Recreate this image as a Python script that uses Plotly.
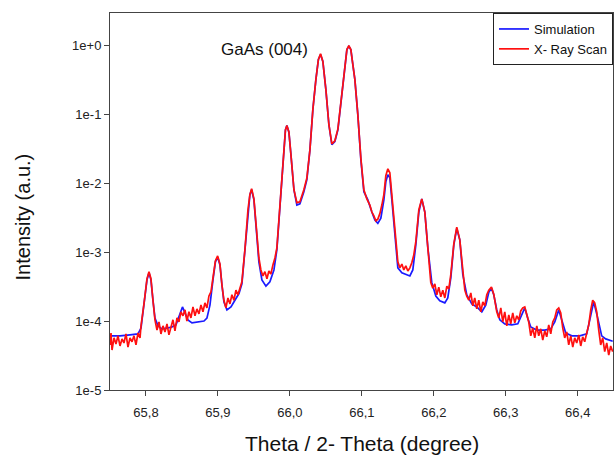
import math
import plotly.graph_objects as go

# ---- Simulation (blue) ----
sim_theta = [65.7500, 65.7639, 65.7778, 65.7889, 65.7931, 65.7972, 65.8014, 65.8042, 65.8069, 65.8097,
             65.8125, 65.8167, 65.8222, 65.8292, 65.8361, 65.8417, 65.8458, 65.8507, 65.8542, 65.8583,
             65.8639, 65.8722, 65.8806, 65.8847, 65.8889, 65.8931, 65.8965, 65.8996, 65.9028, 65.9056,
             65.9083, 65.9125, 65.9181, 65.9236, 65.9292, 65.9333, 65.9375, 65.9417, 65.9444, 65.9468,
             65.9500, 65.9528, 65.9569, 65.9611, 65.9667, 65.9722, 65.9778, 65.9819, 65.9861, 65.9903,
             65.9938, 65.9958, 65.9986, 66.0014, 66.0056, 66.0097, 66.0139, 66.0194, 66.0236, 66.0278,
             66.0319, 66.0361, 66.0396, 66.0426, 66.0458, 66.0500, 66.0542, 66.0583, 66.0625, 66.0667,
             66.0708, 66.0750, 66.0792, 66.0819, 66.0847, 66.0875, 66.0903, 66.0944, 66.0986, 66.1028,
             66.1083, 66.1139, 66.1181, 66.1222, 66.1264, 66.1306, 66.1333, 66.1361, 66.1389, 66.1417,
             66.1458, 66.1500, 66.1556, 66.1611, 66.1667, 66.1708, 66.1750, 66.1792, 66.1833, 66.1875,
             66.1917, 66.1972, 66.2028, 66.2083, 66.2153, 66.2194, 66.2236, 66.2278, 66.2319, 66.2361,
             66.2403, 66.2458, 66.2528, 66.2597, 66.2667, 66.2722, 66.2764, 66.2801, 66.2833, 66.2875,
             66.2917, 66.2986, 66.3083, 66.3167, 66.3222, 66.3264, 66.3306, 66.3347, 66.3431, 66.3542,
             66.3625, 66.3681, 66.3736, 66.3778, 66.3833, 66.3917, 66.4028, 66.4125, 66.4167, 66.4222,
             66.4278, 66.4333, 66.4389, 66.4486]
sim_intensity = [6.1e-5, 6.1e-5, 6.3e-5, 6.5e-5, 7.9e-5, 1.7e-4, 3.95e-4, 5.0e-4, 3.95e-4, 2.0e-4,
                 1.1e-4, 8.5e-5, 7.7e-5, 7.9e-5, 8.2e-5, 8.8e-5, 1.19e-4, 1.6e-4, 1.31e-4, 1.04e-4,
                 9.4e-5, 9.7e-5, 1.0e-4, 1.1e-4, 1.7e-4, 3.95e-4, 7.2e-4, 8.4e-4, 6.5e-4, 3.3e-4,
                 1.9e-4, 1.45e-4, 1.6e-4, 2.0e-4, 2.5e-4, 3.45e-4, 1.08e-3, 4.1e-3, 6.8e-3, 8.0e-3,
                 5.7e-3, 2.5e-3, 7.2e-4, 3.95e-4, 3.2e-4, 3.7e-4, 5.5e-4, 1.08e-3, 4.5e-3, 2.2e-2,
                 5.9e-2, 6.8e-2, 5.5e-2, 2.6e-2, 8.0e-3, 4.8e-3, 5.0e-3, 7.5e-3, 1.12e-2, 3.0e-2,
                 0.116, 0.316, 0.62, 0.73, 0.58, 0.226, 0.07, 0.036, 0.04, 0.059,
                 0.137, 0.373, 0.86, 0.96, 0.86, 0.52, 0.316, 0.098, 0.022, 7.5e-3,
                 5.7e-3, 3.8e-3, 2.9e-3, 2.6e-3, 3.1e-3, 5.7e-3, 1.04e-2, 1.32e-2, 1.19e-2, 5.7e-3,
                 1.9e-3, 5.9e-4, 5.0e-4, 4.8e-4, 4.5e-4, 5.5e-4, 1.27e-3, 3.8e-3, 5.9e-3, 3.8e-3,
                 1.15e-3, 3.6e-4, 2.3e-4, 1.96e-4, 1.83e-4, 2.16e-4, 4.2e-4, 1.27e-3, 2.2e-3, 1.5e-3,
                 4.7e-4, 2.4e-4, 1.77e-4, 1.6e-4, 1.36e-4, 1.7e-4, 2.6e-4, 3.0e-4, 2.4e-4, 1.45e-4,
                 1.04e-4, 9.1e-5, 8.8e-5, 9.1e-5, 1.23e-4, 1.55e-4, 1.1e-4, 8.2e-5, 7.4e-5, 7.4e-5,
                 7.7e-5, 9.7e-5, 1.45e-4, 1.04e-4, 6.7e-5, 6.1e-5, 6.1e-5, 6.5e-5, 1.04e-4, 1.9e-4,
                 1.1e-4, 6.1e-5, 5.5e-5, 5.1e-5]

# ---- X-Ray scan (red) ----
xrd_theta = [65.7500, 65.7514, 65.7528, 65.7556, 65.7583, 65.7611, 65.7639, 65.7667, 65.7694, 65.7722,
             65.7750, 65.7778, 65.7806, 65.7833, 65.7861, 65.7889, 65.7917, 65.7931, 65.7972, 65.8014,
             65.8042, 65.8069, 65.8097, 65.8125, 65.8153, 65.8181, 65.8208, 65.8236, 65.8264, 65.8292,
             65.8319, 65.8347, 65.8375, 65.8403, 65.8431, 65.8458, 65.8486, 65.8514, 65.8542, 65.8569,
             65.8597, 65.8625, 65.8653, 65.8681, 65.8708, 65.8736, 65.8764, 65.8792, 65.8819, 65.8847,
             65.8875, 65.8903, 65.8931, 65.8965, 65.8996, 65.9028, 65.9056, 65.9083, 65.9111, 65.9139,
             65.9167, 65.9194, 65.9222, 65.9250, 65.9278, 65.9306, 65.9333, 65.9375, 65.9417, 65.9444,
             65.9468, 65.9500, 65.9528, 65.9569, 65.9597, 65.9625, 65.9653, 65.9681, 65.9708, 65.9736,
             65.9764, 65.9792, 65.9819, 65.9861, 65.9903, 65.9938, 65.9958, 65.9986, 66.0014, 66.0056,
             66.0097, 66.0139, 66.0194, 66.0236, 66.0278, 66.0319, 66.0361, 66.0396, 66.0426, 66.0458,
             66.0500, 66.0542, 66.0583, 66.0625, 66.0667, 66.0708, 66.0750, 66.0792, 66.0819, 66.0847,
             66.0875, 66.0903, 66.0944, 66.0986, 66.1028, 66.1069, 66.1111, 66.1139, 66.1167, 66.1194,
             66.1222, 66.1250, 66.1278, 66.1306, 66.1333, 66.1361, 66.1389, 66.1417, 66.1458, 66.1500,
             66.1528, 66.1556, 66.1583, 66.1611, 66.1639, 66.1667, 66.1694, 66.1722, 66.1750, 66.1792,
             66.1833, 66.1875, 66.1917, 66.1958, 66.1986, 66.2014, 66.2042, 66.2069, 66.2097, 66.2125,
             66.2153, 66.2181, 66.2208, 66.2236, 66.2278, 66.2319, 66.2361, 66.2403, 66.2431, 66.2458,
             66.2486, 66.2514, 66.2542, 66.2569, 66.2597, 66.2625, 66.2653, 66.2681, 66.2708, 66.2736,
             66.2764, 66.2801, 66.2833, 66.2875, 66.2903, 66.2931, 66.2958, 66.2986, 66.3014, 66.3042,
             66.3069, 66.3097, 66.3125, 66.3153, 66.3181, 66.3208, 66.3236, 66.3264, 66.3292, 66.3319,
             66.3347, 66.3375, 66.3403, 66.3431, 66.3458, 66.3486, 66.3514, 66.3542, 66.3569, 66.3597,
             66.3625, 66.3653, 66.3681, 66.3708, 66.3736, 66.3764, 66.3792, 66.3819, 66.3847, 66.3875,
             66.3903, 66.3931, 66.3958, 66.3986, 66.4014, 66.4042, 66.4069, 66.4097, 66.4125, 66.4153,
             66.4181, 66.4208, 66.4236, 66.4264, 66.4292, 66.4319, 66.4347, 66.4375, 66.4403, 66.4431,
             66.4458, 66.4486]
xrd_intensity = [4.5e-5, 6.7e-5, 3.8e-5, 5.7e-5, 4.65e-5, 6.1e-5, 4.35e-5, 5.5e-5, 4.8e-5, 6.5e-5,
                 4.2e-5, 5.7e-5, 5.0e-5, 6.1e-5, 4.5e-5, 6.7e-5, 5.7e-5, 8.5e-5, 1.77e-4, 4.1e-4,
                 5.2e-4, 4.1e-4, 2.0e-4, 1.04e-4, 7.4e-5, 9.7e-5, 6.5e-5, 8.5e-5, 6.95e-5, 9.1e-5,
                 6.3e-5, 8.2e-5, 1.04e-4, 7.2e-5, 1.11e-4, 9.7e-5, 1.36e-4, 1.19e-4, 1.45e-4, 1.0e-4,
                 1.36e-4, 1.11e-4, 1.6e-4, 1.19e-4, 1.5e-4, 1.27e-4, 1.71e-4, 1.36e-4, 1.83e-4, 1.55e-4,
                 2.31e-4, 2.64e-4, 4.2e-4, 7.45e-4, 8.8e-4, 6.7e-4, 3.3e-4, 2.0e-4, 1.55e-4, 2.16e-4,
                 1.77e-4, 2.4e-4, 2.0e-4, 2.8e-4, 2.4e-4, 3.0e-4, 3.7e-4, 1.08e-3, 4.1e-3, 6.8e-3,
                 8.3e-3, 5.9e-3, 2.6e-3, 8.2e-4, 5.5e-4, 4.5e-4, 5.2e-4, 4.1e-4, 5.3e-4, 4.8e-4,
                 6.5e-4, 8.2e-4, 1.15e-3, 4.5e-3, 2.2e-2, 5.9e-2, 6.8e-2, 5.5e-2, 2.6e-2, 8.0e-3,
                 5.2e-3, 5.35e-3, 8.0e-3, 1.19e-2, 3.0e-2, 0.116, 0.316, 0.62, 0.75, 0.58,
                 0.226, 0.07, 0.037, 0.041, 0.061, 0.137, 0.373, 0.86, 0.98, 0.86,
                 0.52, 0.316, 0.098, 0.023, 8.0e-3, 5.9e-3, 4.8e-3, 3.8e-3, 3.35e-3, 2.84e-3,
                 3.0e-3, 3.6e-3, 4.8e-3, 6.8e-3, 1.28e-2, 1.61e-2, 1.41e-2, 6.8e-3, 2.1e-3, 7.2e-4,
                 5.9e-4, 6.7e-4, 5.5e-4, 6.3e-4, 5.3e-4, 5.9e-4, 7.0e-4, 9.1e-4, 1.41e-3, 4.1e-3,
                 5.9e-3, 3.8e-3, 1.15e-3, 3.6e-4, 3.0e-4, 3.45e-4, 2.4e-4, 3.1e-4, 2.24e-4, 2.8e-4,
                 2.16e-4, 3.2e-4, 2.9e-4, 4.7e-4, 1.31e-3, 2.3e-3, 1.5e-3, 4.8e-4, 2.8e-4, 2.3e-4,
                 2.0e-4, 2.56e-4, 1.66e-4, 2.16e-4, 1.5e-4, 2.0e-4, 1.36e-4, 1.89e-4, 1.66e-4, 2.4e-4,
                 2.8e-4, 3.1e-4, 2.45e-4, 1.36e-4, 1.11e-4, 1.55e-4, 9.7e-5, 1.36e-4, 8.5e-5, 1.23e-4,
                 9.1e-5, 1.31e-4, 9.4e-5, 1.19e-4, 1.04e-4, 1.4e-4, 1.55e-4, 1.6e-4, 1.27e-4, 9.7e-5,
                 6.1e-5, 7.9e-5, 5.7e-5, 8.5e-5, 6.1e-5, 7.7e-5, 5.3e-5, 7.2e-5, 5.9e-5, 8.8e-5,
                 6.5e-5, 9.7e-5, 1.11e-4, 1.45e-4, 1.55e-4, 1.31e-4, 7.9e-5, 5.7e-5, 6.95e-5, 4.5e-5,
                 6.1e-5, 4.2e-5, 5.7e-5, 4.8e-5, 6.3e-5, 4.35e-5, 5.9e-5, 5.0e-5, 6.7e-5, 8.8e-5,
                 1.45e-4, 2.0e-4, 1.83e-4, 1.36e-4, 7.4e-5, 4.5e-5, 5.7e-5, 3.6e-5, 4.8e-5, 3.2e-5,
                 4.35e-5, 3.6e-5]

x_tick_vals = [65.8, 65.9, 66.0, 66.1, 66.2, 66.3, 66.4]
y_tick_vals = [1, 1e-1, 1e-2, 1e-3, 1e-4, 1e-5]
y_tick_text = ["1e+0", "1e-1", "1e-2", "1e-3", "1e-4", "1e-5"]

label_theta = 65.965
label_intensity = 0.875

FONT = "Liberation Sans, Arial, sans-serif"

fig = go.Figure()
fig.add_trace(go.Scatter(x=sim_theta, y=sim_intensity, mode="lines", name="Simulation",
                         line=dict(color="#1a1aff", width=1.7)))
fig.add_trace(go.Scatter(x=xrd_theta, y=xrd_intensity, mode="lines", name="X- Ray Scan",
                         line=dict(color="#ff1010", width=1.7)))

# peak label (log axis -> annotation y given as log10)
fig.add_annotation(x=label_theta, y=math.log10(label_intensity), xref="x", yref="y",
                   xanchor="center", yanchor="middle",
                   text="GaAs (004)", showarrow=False, font=dict(size=17, color="#111", family=FONT))

# axis titles
fig.add_annotation(x=-0.174, y=0.459, xref="paper", yref="paper", xanchor="center", yanchor="middle",
                   text="Intensity (a.u.)", textangle=-90, showarrow=False,
                   font=dict(size=20, color="#111", family=FONT))
fig.add_annotation(x=0.5, y=-0.143, xref="paper", yref="paper", xanchor="center", yanchor="middle",
                   text="Theta / 2- Theta (degree)", showarrow=False,
                   font=dict(size=21, color="#111", family=FONT))

fig.update_layout(
    width=614, height=457,
    margin=dict(l=110, r=1, t=13, b=67),
    paper_bgcolor="white", plot_bgcolor="white",
    separators=", ",
    font=dict(family=FONT, size=13, color="#222"),
    showlegend=True,
    legend=dict(x=1, y=1, xanchor="right", yanchor="top",
                bgcolor="white", bordercolor="#222", borderwidth=1,
                font=dict(size=13, color="#111"), tracegroupgap=0),
    xaxis=dict(range=[65.75, 66.449], tickvals=x_tick_vals, tickformat=".1f",
               ticks="outside", ticklen=5, tickcolor="#444", showline=True, linecolor="#444",
               linewidth=1, mirror=True, showgrid=False, zeroline=False,
               ticklabelstandoff=5,
               tickfont=dict(size=13, color="#222")),
    yaxis=dict(type="log", range=[-5, 0.465], tickvals=y_tick_vals, ticktext=y_tick_text,
               ticks="outside", ticklen=5, tickcolor="#444", showline=True, linecolor="#444",
               linewidth=1, mirror=True, showgrid=False, zeroline=False,
               tickfont=dict(size=13, color="#222")),
)

fig.write_html("out.html")
